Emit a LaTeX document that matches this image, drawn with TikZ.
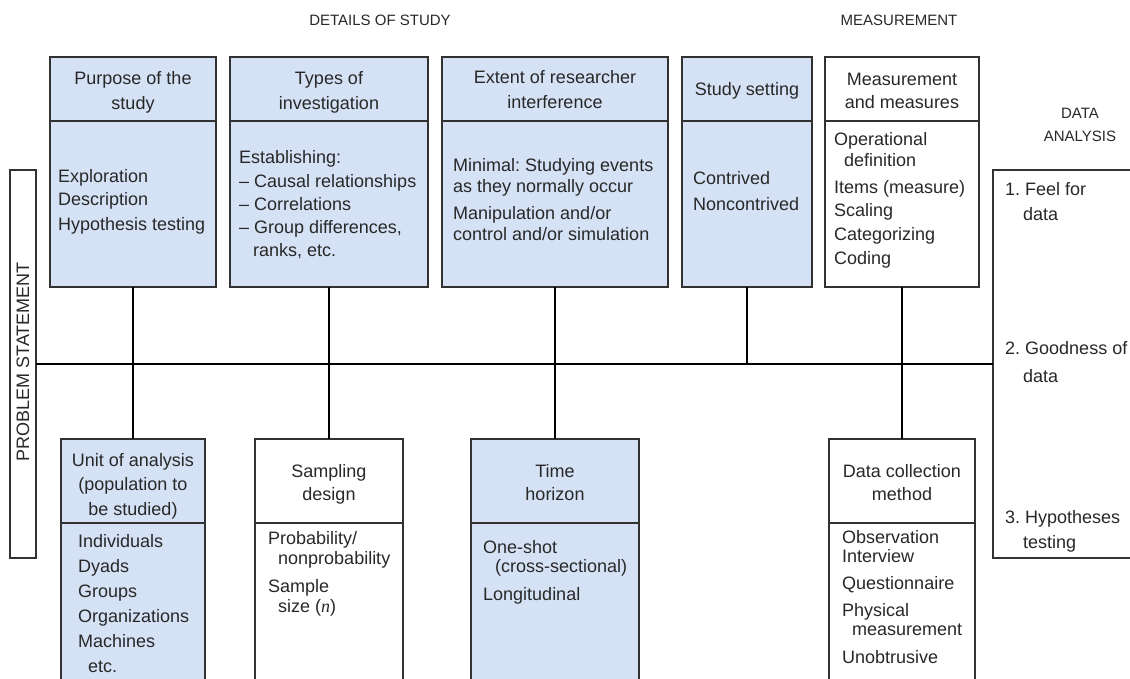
\documentclass[tikz,border=0pt]{standalone}
\usepackage{fontspec}
\setmainfont{Liberation Sans}
\newfontfamily\nfont{Liberation Serif}
\frenchspacing
\definecolor{boxblue}{RGB}{213,226,245}
\definecolor{boxline}{RGB}{50,50,50}
\definecolor{ink}{RGB}{40,40,40}
% one line of text: left aligned (\putl) or centred (\putc) on its baseline
\newcommand\putl[4]{\node[txt] (#1) at (#2,#3) {#4};}
\newcommand\putc[4]{\node[ctxt] (#1) at (#2,#3) {#4};}
\begin{document}
\begin{tikzpicture}[x=1pt,y=-1pt,
  frame/.style={draw=boxline, line width=1.8pt, inner sep=0pt, outer sep=0pt, anchor=north west},
  bluebox/.style={frame, fill=boxblue},
  whitebox/.style={frame, fill=white},
  txt/.style={inner sep=0pt, anchor=base west, text=ink, font=\fontsize{18}{21}\selectfont},
  ctxt/.style={txt, anchor=base},
  caps/.style={inner sep=0pt, anchor=base, text=ink, font=\fontsize{15}{18}\selectfont},
  link/.style={line width=2.6pt, draw=black}
]
\useasboundingbox (0,0) rectangle (1130,678);
\clip (0,0) rectangle (1130,678);
\fill[white] (0,0) rectangle (1130,678);

% section captions
\node[caps] (details) at (380,25) {DETAILS OF STUDY};
\node[caps] (measlbl) at (899,25) {MEASUREMENT};
\node[caps] (dalbl1) at (1080,118) {DATA};
\node[caps] (dalbl2) at (1080,141) {ANALYSIS};

% side frames
\node[frame, minimum width=26, minimum height=388] (ps) at (10,170) {};
\node[txt, rotate=90, anchor=center] (pstxt) at (23,362) {PROBLEM STATEMENT};
\node[frame, minimum width=150, minimum height=388] (da) at (993,170) {};

% upper row: header cell + body cell
\node[bluebox, minimum width=166, minimum height=64] (purH) at (50,57) {};
\node[bluebox, minimum width=166, minimum height=166] (purB) at (50,121) {};
\node[bluebox, minimum width=198, minimum height=64] (typH) at (230,57) {};
\node[bluebox, minimum width=198, minimum height=166] (typB) at (230,121) {};
\node[bluebox, minimum width=226, minimum height=64] (extH) at (442,57) {};
\node[bluebox, minimum width=226, minimum height=166] (extB) at (442,121) {};
\node[bluebox, minimum width=130, minimum height=64] (stsH) at (682,57) {};
\node[bluebox, minimum width=130, minimum height=166] (stsB) at (682,121) {};
\node[whitebox, minimum width=154, minimum height=64] (meaH) at (825,57) {};
\node[whitebox, minimum width=154, minimum height=166] (meaB) at (825,121) {};

% lower row
\node[bluebox, minimum width=144, minimum height=84] (uniH) at (61,439) {};
\node[bluebox, minimum width=144, minimum height=180] (uniB) at (61,523) {};
\node[whitebox, minimum width=148, minimum height=84] (samH) at (255,439) {};
\node[whitebox, minimum width=148, minimum height=180] (samB) at (255,523) {};
\node[bluebox, minimum width=168, minimum height=84] (timH) at (471,439) {};
\node[bluebox, minimum width=168, minimum height=180] (timB) at (471,523) {};
\node[whitebox, minimum width=146, minimum height=84] (dcmH) at (829,439) {};
\node[whitebox, minimum width=146, minimum height=180] (dcmB) at (829,523) {};

% backbone and branches
\draw[link] (ps.east) -- (da.west);
\draw[link] (purB.south) -- (uniH.north);
\draw[link] (typB.south) -- (samH.north);
\draw[link] (extB.south) -- (timH.north);
\draw[link] (stsB.south) -- (stsB.south |- ps.east);
\draw[link] (meaB.south) -- (dcmH.north);

% Purpose of the study
\putc{purT1}{133}{84}{Purpose of the}
\putc{purT2}{133}{109}{study}
\putl{pur1}{58}{182}{Exploration}
\putl{pur2}{58}{205}{Description}
\putl{pur3}{58}{230}{Hypothesis testing}

% Types of investigation
\putc{typT1}{329}{84}{Types of}
\putc{typT2}{329}{109}{investigation}
\putl{typ1}{239}{163}{Establishing:}
\putl{typ2}{239}{187}{– Causal relationships}
\putl{typ3}{239}{210}{– Correlations}
\putl{typ4}{239}{233}{– Group differences,}
\putl{typ5}{253}{256}{ranks, etc.}

% Extent of researcher interference
\putc{extT1}{555}{83}{Extent of researcher}
\putc{extT2}{555}{108}{interference}
\putl{ext1}{453}{171}{Minimal: Studying events}
\putl{ext2}{453}{192}{as they normally occur}
\putl{ext3}{453}{219}{Manipulation and/or}
\putl{ext4}{453}{240}{control and/or simulation}

% Study setting
\putc{stsT1}{747}{95}{Study setting}
\putl{sts1}{693}{184}{Contrived}
\putl{sts2}{693}{210}{Noncontrived}

% Measurement and measures
\putc{meaT1}{902}{85}{Measurement}
\putc{meaT2}{902}{108}{and measures}
\putl{mea1}{834}{145}{Operational}
\putl{mea2}{844}{166}{definition}
\putl{mea3}{834}{193}{Items (measure)}
\putl{mea4}{834}{216}{Scaling}
\putl{mea5}{834}{240}{Categorizing}
\putl{mea6}{834}{264}{Coding}

% Data analysis
\putl{da1}{1005}{195}{1. Feel for}
\putl{da2}{1023}{220}{data}
\putl{da3}{1005}{354}{2. Goodness of}
\putl{da4}{1023}{382}{data}
\putl{da5}{1005}{523}{3. Hypotheses}
\putl{da6}{1023}{548}{testing}

% Unit of analysis
\putc{uniT1}{133}{466}{Unit of analysis}
\putc{uniT2}{133}{490}{(population to}
\putc{uniT3}{133}{515}{be studied)}
\putl{uni1}{78}{547}{Individuals}
\putl{uni2}{78}{572}{Dyads}
\putl{uni3}{78}{597}{Groups}
\putl{uni4}{78}{622}{Organizations}
\putl{uni5}{78}{647}{Machines}
\putl{uni6}{88}{672}{etc.}

% Sampling design
\putc{samT1}{329}{477}{Sampling}
\putc{samT2}{329}{500}{design}
\putl{sam1}{268}{544}{Probability/}
\putl{sam2}{278}{564}{nonprobability}
\putl{sam3}{268}{592}{Sample}
\putl{sam4}{278}{612}{size ({\nfont\itshape n})}

% Time horizon
\putc{timT1}{555}{477}{Time}
\putc{timT2}{555}{500}{horizon}
\putl{tim1}{483}{553}{One-shot}
\putl{tim2}{495}{572}{(cross-sectional)}
\putl{tim3}{483}{600}{Longitudinal}

% Data collection method
\putc{dcmT1}{902}{477}{Data collection}
\putc{dcmT2}{902}{500}{method}
\putl{dcm1}{842}{543}{Observation}
\putl{dcm2}{842}{562}{Interview}
\putl{dcm3}{842}{589}{Questionnaire}
\putl{dcm4}{842}{616}{Physical}
\putl{dcm5}{852}{635}{measurement}
\putl{dcm6}{842}{663}{Unobtrusive}
\end{tikzpicture}
\end{document}
